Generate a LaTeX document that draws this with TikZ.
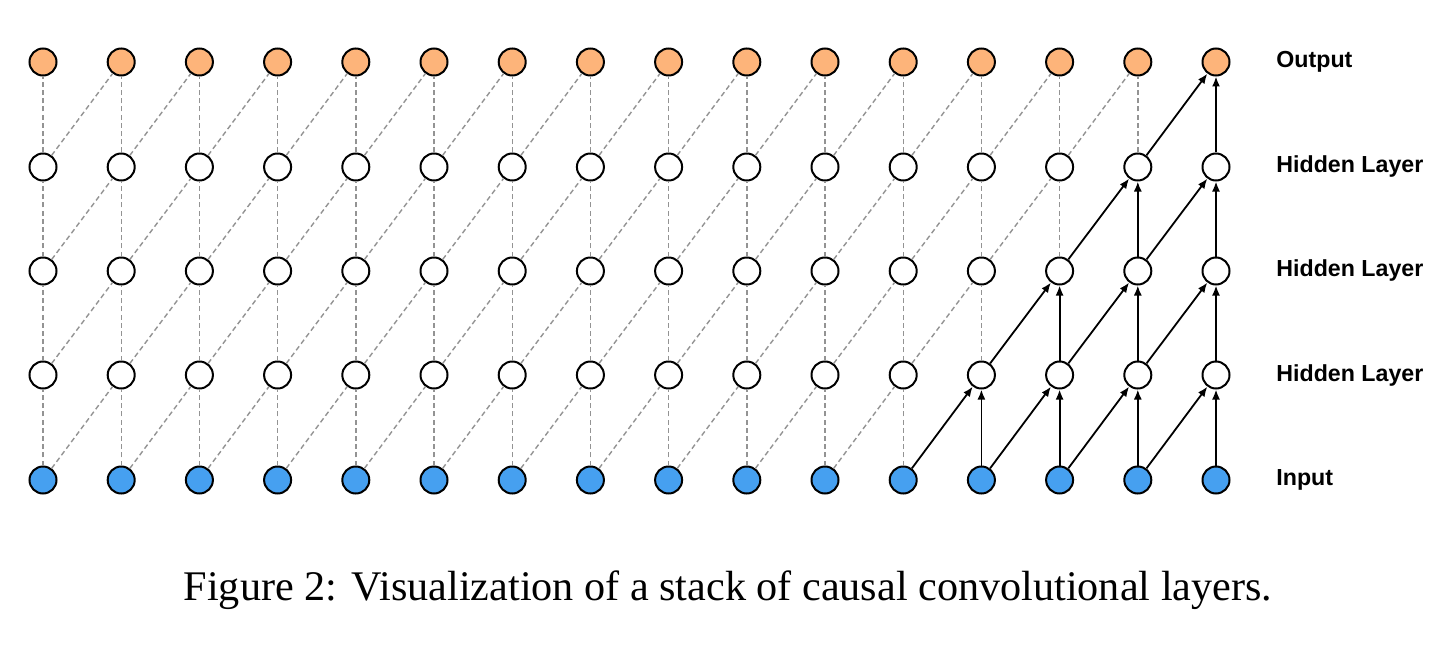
\documentclass[tikz,border=0pt]{standalone}
\usepackage{fontspec}
\setmainfont{Liberation Serif}
\setsansfont{Liberation Sans}
\usetikzlibrary{arrows.meta}

\definecolor{outorange}{RGB}{253,180,122}
\definecolor{inblue}{RGB}{70,160,240}

\tikzset{
    unit/.style={circle, draw=black, line width=1pt, minimum size=13.5pt, inner sep=0pt},
    ghost/.style={gray!85, line width=0.7pt, dash pattern=on 2.5pt off 1.6pt},
    live/.style={black, line width=0.9pt, -{Latex[length=5pt,width=4pt]}},
    layername/.style={anchor=west, inner sep=0pt, font=\sffamily\bfseries\fontsize{11.6}{13}\selectfont}
}

\begin{document}
\begin{tikzpicture}[x=0.5pt, y=-0.5pt]
    \useasboundingbox (0,0) rectangle (1440,647);

    % units, bottom to top
    \foreach \l/\py/\fc in {0/480/inblue, 1/375/white, 2/271/white, 3/167/white, 4/62/outorange} {
        \foreach \i in {0,...,15} {
            \node[unit, fill=\fc] (n-\l-\i) at ({43+78.2*\i}, \py) {};
        }
    }

    % connections: solid inside the receptive field of the last output
    \foreach \l in {0,...,3} {
        \pgfmathtruncatemacro{\u}{\l+1}
        \foreach \i in {0,...,15} {
            \ifnum\i<\numexpr12+\l\relax
                \draw[ghost] (n-\l-\i) -- (n-\u-\i);
            \else
                \draw[live] (n-\l-\i) -- (n-\u-\i);
            \fi
        }
        \foreach \i in {0,...,14} {
            \pgfmathtruncatemacro{\j}{\i+1}
            \ifnum\i<\numexpr11+\l\relax
                \draw[ghost] (n-\l-\i) -- (n-\u-\j);
            \else
                \draw[live] (n-\l-\i) -- (n-\u-\j);
            \fi
        }
    }

    \node[layername] (lab-in) at (1276,480) {Input};
    \node[layername] (lab-h1) at (1276,375) {Hidden Layer};
    \node[layername] (lab-h2) at (1276,271) {Hidden Layer};
    \node[layername] (lab-h3) at (1276,167) {Hidden Layer};
    \node[layername] (lab-out) at (1276,62) {Output};

    \node (caption) at (728,590)
        {\fontsize{21.1}{23}\selectfont Figure 2: Visualization of a stack of causal convolutional layers.};
\end{tikzpicture}
\end{document}
